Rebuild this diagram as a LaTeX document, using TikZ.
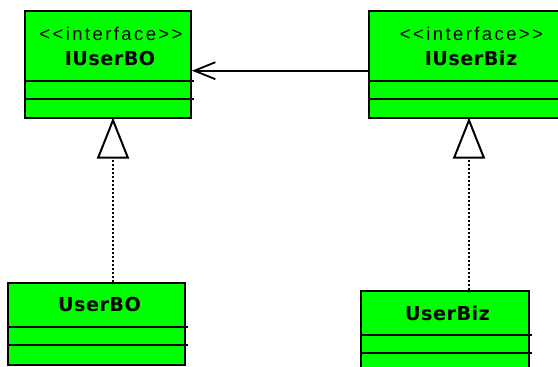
\documentclass[tikz,border=0pt]{standalone}
\usepackage{fontspec}
\newfontfamily\umlfont[LetterSpace=13]{Liberation Sans}
\newfontfamily\umlbold[LetterSpace=2.5]{DejaVu Sans Bold}
\usetikzlibrary{arrows.meta}
\definecolor{umlgreen}{RGB}{0,255,0}
\tikzset{
  classbox/.style={draw=black, fill=umlgreen, line width=2pt, rectangle, inner sep=0pt},
  divider/.style={line width=2pt},
  stereo/.style={font=\umlfont\fontsize{18.5pt}{21pt}\selectfont, anchor=base, inner sep=0pt},
  cname/.style={font=\umlbold\fontsize{19.2pt}{22pt}\selectfont, anchor=base, inner sep=0pt},
  assoc/.style={line width=1.8pt, -{Straight Barb[length=21pt, width=17pt, line width=1.8pt]}},
  realize/.style={line width=1.8pt, dash pattern=on 2pt off 2pt,
    -{Triangle[open, length=41pt, width=32pt, line width=2pt, fill=white]}}
}
\begin{document}
\begin{tikzpicture}[x=1pt, y=-1pt]
\useasboundingbox (0,0) rectangle (558,367);
\clip (0,0) rectangle (558,367);
% boxes
\node[classbox, minimum width=166pt, minimum height=107pt] (ibo) at (108,64.5) {};
\node[classbox, minimum width=203pt, minimum height=107pt] (ibiz) at (470.5,64.5) {};
\node[classbox, minimum width=177pt, minimum height=82pt] (ubo) at (96.5,324) {};
\node[classbox, minimum width=168pt, minimum height=82pt] (ubiz) at (445,332) {};
% dividers
\coordinate (d1) at (0,80.7);
\coordinate (d2) at (0,98.7);
\draw[divider] (ibo.west |- d1) -- ([xshift=2pt]ibo.east |- d1);
\draw[divider] (ibo.west |- d2) -- ([xshift=2pt]ibo.east |- d2);
\draw[divider] (ibiz.west |- d1) -- ([xshift=2pt]ibiz.east |- d1);
\draw[divider] (ibiz.west |- d2) -- ([xshift=2pt]ibiz.east |- d2);
\coordinate (d3) at (0,326.7);
\coordinate (d4) at (0,344.7);
\draw[divider] (ubo.west |- d3) -- ([xshift=2pt]ubo.east |- d3);
\draw[divider] (ubo.west |- d4) -- ([xshift=2pt]ubo.east |- d4);
\coordinate (d5) at (0,334.7);
\coordinate (d6) at (0,352.7);
\draw[divider] (ubiz.west |- d5) -- ([xshift=2pt]ubiz.east |- d5);
\draw[divider] (ubiz.west |- d6) -- ([xshift=2pt]ubiz.east |- d6);
% texts
\node[stereo] (t1) at (111,40) {<<interface>>};
\node[cname] (t2) at (110,65.7) {IUserBO};
\node[stereo] (t3) at (471.5,40) {<<interface>>};
\node[cname] (t4) at (471,65.7) {IUserBiz};
\node[cname] (t5) at (99.5,311.7) {UserBO};
\node[cname] (t6) at (447.5,320.5) {UserBiz};
% association
\coordinate (ay) at (0,70.7);
\draw[assoc] (ibiz.west |- ay) -- (ibo.east |- ay);
% realizations
\coordinate (rx1) at (113,0);
\coordinate (rx2) at (469,0);
\draw[realize] (rx1 |- ubo.north) -- ([yshift=1.5pt]rx1 |- ibo.south);
\draw[realize] (rx2 |- ubiz.north) -- ([yshift=1.5pt]rx2 |- ibiz.south);
\end{tikzpicture}
\end{document}
